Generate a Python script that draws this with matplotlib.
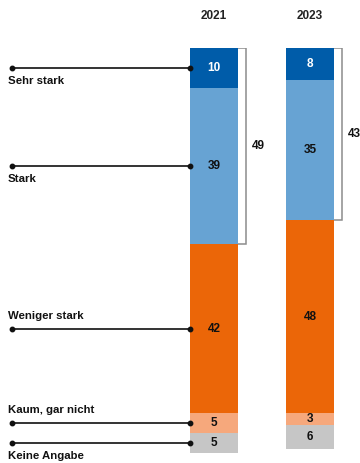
import matplotlib.pyplot as plt
import numpy as np

plt.rcParams['font.family'] = ['Liberation Sans', 'DejaVu Sans']

years = ['2021', '2023']
categories = ['Sehr stark', 'Stark', 'Weniger stark', 'Kaum, gar nicht', 'Keine Angabe']
values = {
    '2021': [10, 39, 42, 5, 5],
    '2023': [8, 35, 48, 3, 6],
}
totals = [49, 43]  # sehr stark + stark

colors = ['#005ca9', '#67a3d3', '#eb6608', '#f6a87c', '#c6c6c6']
text_colors = ['white', '#111111', '#111111', '#111111', '#111111']
label_above = [False, False, True, True, False]

fig = plt.figure(figsize=(3.6, 4.63), dpi=100)
ax = fig.add_axes([0, 0.0216, 1, 0.8747])
ax.set_xlim(-2.23, 1.52)
ax.set_ylim(101, 0)
ax.axis('off')

width = 0.5
x = np.arange(len(years))

for i, yr in enumerate(years):
    vals = values[yr]
    bottom = 0
    for j, v in enumerate(vals):
        ax.bar(x[i], v, width, bottom=bottom, color=colors[j], linewidth=0, zorder=2)
        ax.text(x[i], bottom + v / 2, str(v), ha='center', va='center',
                fontsize=8.5, fontweight='bold', color=text_colors[j], zorder=3)
        bottom += v
    ax.text(x[i], 1.08, yr, transform=ax.get_xaxis_transform(), ha='center', va='center',
            fontsize=8.5, fontweight='bold', color='#222222', clip_on=False)

    # bracket for sehr stark + stark
    top_sum = vals[0] + vals[1]
    bx = x[i] + 0.335
    ax.plot([x[i] + width / 2, bx, bx, x[i] + width / 2], [0, 0, top_sum, top_sum],
            color='#8c8c8c', linewidth=1.1, zorder=1, solid_joinstyle='miter')
    ax.text(bx + 0.055, top_sum / 2, str(totals[i]), ha='left', va='center',
            fontsize=8.5, fontweight='bold', color='#111111', clip_on=False)

# category leader lines (at 2021 segment centres)
first = values['2021']
centres = np.cumsum(first) - np.array(first) / 2
x_left = -2.104
x_right = -width / 2
for j, cat in enumerate(categories):
    yc = centres[j]
    ax.plot([x_left, x_right], [yc, yc], color='#111111', linewidth=1.2,
            marker='o', markersize=3.2, zorder=4, clip_on=False)
    off = 9.5 if label_above[j] else -9.5
    ax.annotate(cat, (-2.146, yc), xytext=(0, off), textcoords='offset points',
                ha='left', va='center', fontsize=8.2, fontweight='bold',
                color='#111111', annotation_clip=False)

fig.savefig('out.png', dpi=100)
